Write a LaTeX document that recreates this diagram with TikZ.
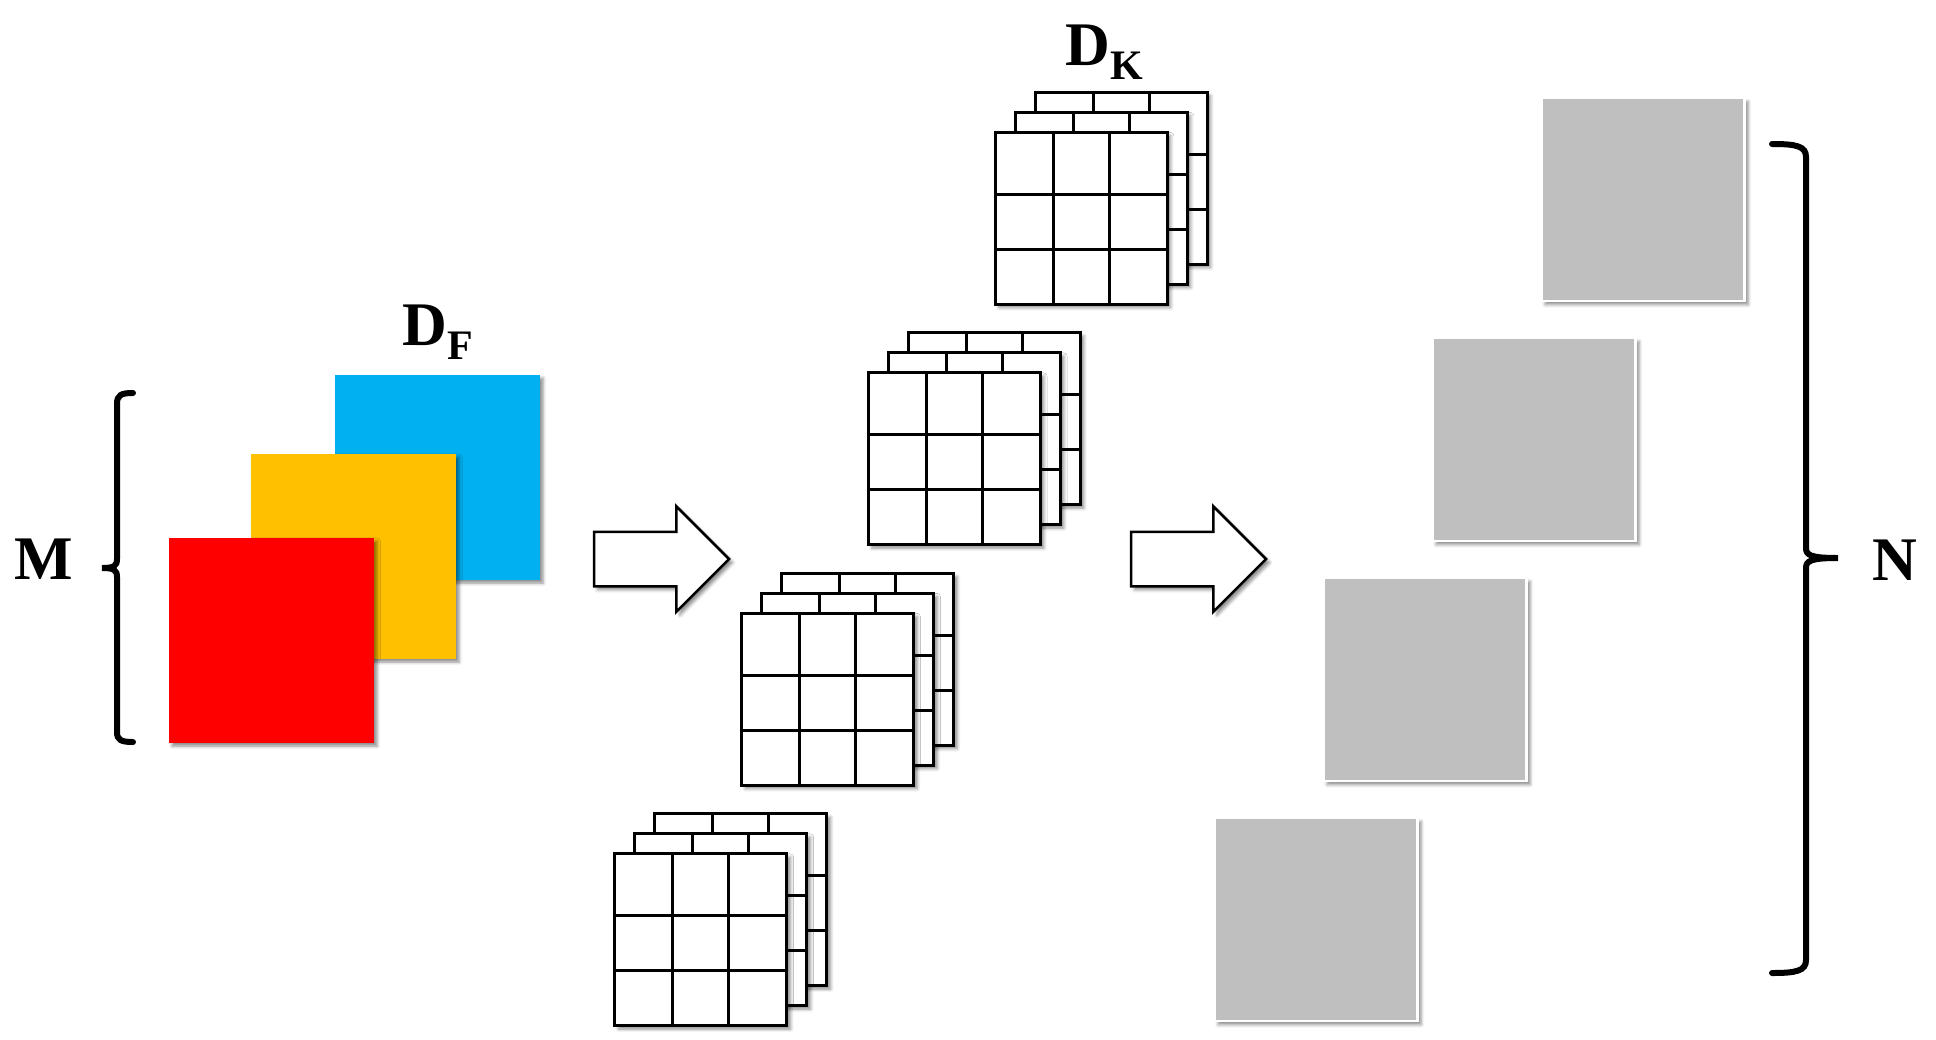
\documentclass[tikz,border=0pt]{standalone}
\usepackage{fontspec}
\setmainfont{Liberation Serif}
\usepackage{tikz}
\usetikzlibrary{positioning,calc,shapes.arrows,shadows.blur}
\definecolor{kekszin}{HTML}{00B0F0}
\definecolor{sargaszin}{HTML}{FFC000}
\definecolor{pirosszin}{HTML}{FF0000}
\definecolor{szurkeszin}{HTML}{BFBFBF}
\tikzset{
  arnyek/.style={blur shadow={shadow xshift=1.8pt,shadow yshift=-1.8pt,shadow blur radius=1.6pt,
                 shadow opacity=45}},
  lap/.style={rectangle,minimum size=102.5pt,inner sep=0pt,outer sep=0pt,arnyek},
  racs/.style={rectangle,draw,line width=1.5pt,fill=white,minimum size=86pt,inner sep=0pt,outer sep=0pt,
               arnyek},
  racsvonal/.style={line width=1.5pt},
  szurke/.style={rectangle,draw=white,line width=1.2pt,fill=szurkeszin,minimum size=101.5pt,inner sep=0pt,
                 arnyek},
  blokknyil/.style={single arrow,draw,line width=1.25pt,fill=white,minimum height=67.5pt,
                    inner xsep=0pt,inner ysep=13pt,single arrow head extend=12.75pt,outer sep=0pt,
                    anchor=tip,arnyek},
  zarojel/.style={line width=3pt,line cap=round},
  felirat/.style={font=\fontsize{31}{31}\selectfont\bfseries,inner sep=0pt},
}
\newcommand{\alsoindex}[1]{\raisebox{-7pt}{\fontsize{21}{21}\selectfont #1}}

\begin{document}
\begin{tikzpicture}[x=0.5pt,y=-0.5pt]
  \useasboundingbox (0,0) rectangle (1936,1039);
  % bemenet: M csatorna
  \node[lap,fill=kekszin] (kek) at (437,477) {};
  \node[lap,fill=sargaszin] (sarga) at (353,556) {};
  \node[lap,fill=pirosszin] (piros) at (271,640) {};
  \node[felirat,anchor=base west] (df) at (402,345) {D\alsoindex{F}};
  \draw[zarojel] (133,393) .. controls (121,393) and (117,395) .. (117,404) -- (117,559)
    .. controls (117,566) and (114,568) .. (102,568) .. controls (114,568) and (117,570) .. (117,577)
    -- (117,732) .. controls (117,740) and (121,742) .. (133,742);
  \node[felirat,anchor=base] (m) at (44,579) {M};
  % szurok: N darab, mindegyik M reteggel
  \foreach \i in {0,...,3} {
    \foreach \j/\d in {2/40,1/20,0/0} {
      \node[racs] (k\i\j) at ({1081-126.7*\i+\d},{218+240.5*\i-\d}) {};
      \draw[racsvonal] ($(k\i\j.north west)+(58,0)$) -- ($(k\i\j.south west)+(58,0)$)
        ($(k\i\j.north west)+(114,0)$) -- ($(k\i\j.south west)+(114,0)$)
        ($(k\i\j.north west)+(0,62)$) -- ($(k\i\j.north east)+(0,62)$)
        ($(k\i\j.north west)+(0,117)$) -- ($(k\i\j.north east)+(0,117)$);
    }
  }
  \node[felirat,anchor=base west] (dk) at (1065,65) {D\alsoindex{K}};
  % nyilak
  \node[blokknyil] (ny1) at (729,559) {};
  \node[blokknyil] (ny2) at (1266,559) {};
  % kimenet: N csatorna
  \foreach \i in {0,...,3}
    \node[szurke] (g\i) at ({1643-109*\i},{199.5+240*\i}) {};
  \draw[zarojel] (1772,144) .. controls (1796,144) and (1806,146) .. (1806,157) -- (1806,548)
    .. controls (1806,555) and (1810,558) .. (1838,558) .. controls (1810,558) and (1806,561) .. (1806,568)
    -- (1806,960) .. controls (1806,971) and (1796,973) .. (1772,973);
  \node[felirat,anchor=base] (n) at (1895,580) {N};
\end{tikzpicture}
\end{document}
